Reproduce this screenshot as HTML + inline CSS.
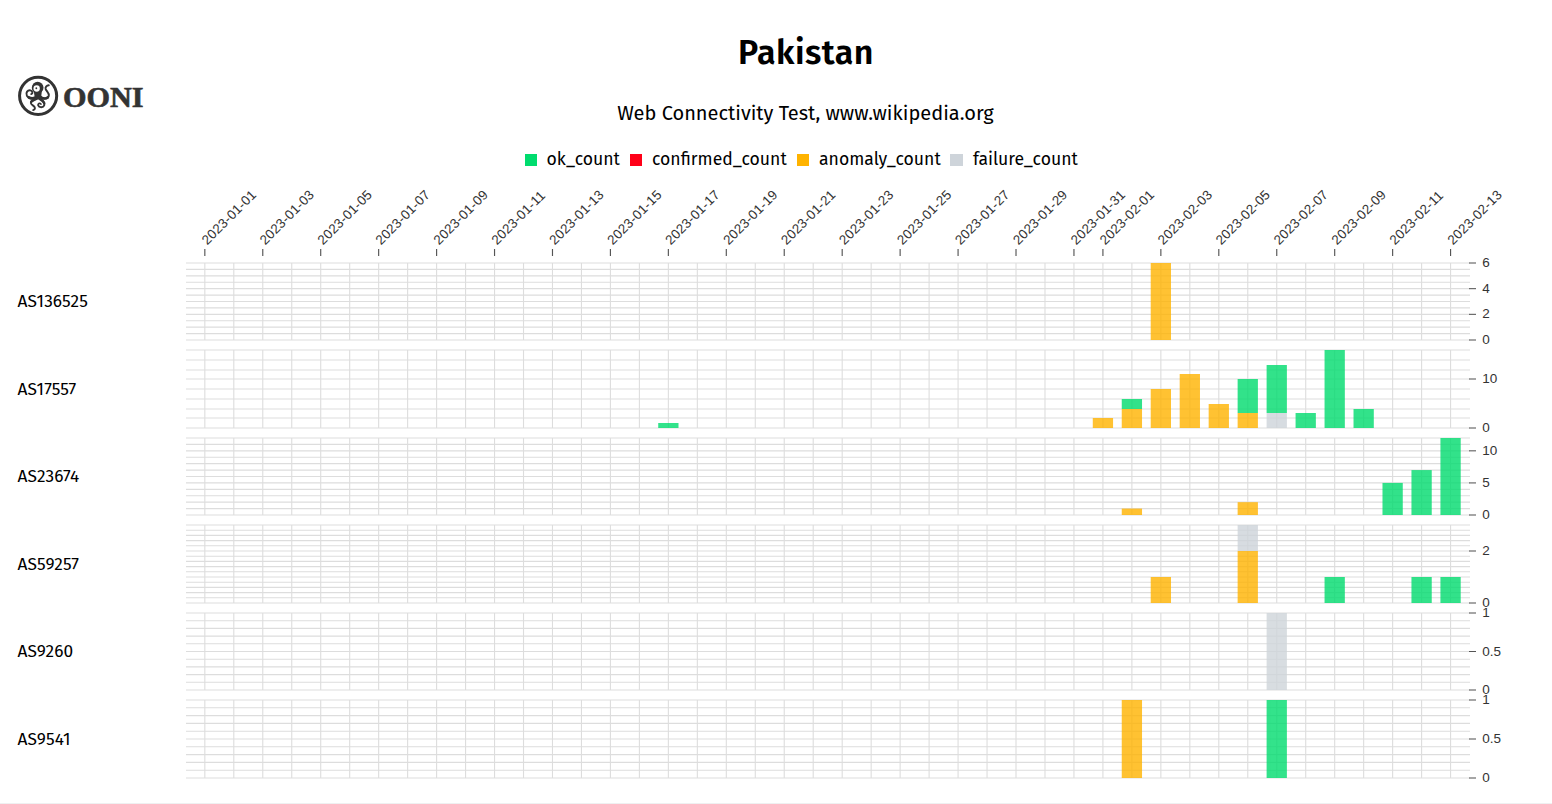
<!DOCTYPE html>
<html lang="en">
<head>
<meta charset="utf-8">
<title>Pakistan - Web Connectivity Test, www.wikipedia.org</title>
<style>
html,body{margin:0;padding:0;background:#fff;}
body{width:1552px;height:804px;position:relative;overflow:hidden;color:#000;
  font-family:"Fira Sans","Liberation Sans",sans-serif;font-size:17.6px;}
.title{position:absolute;left:0;width:1612px;top:29px;text-align:center;font-weight:600;font-size:34px;letter-spacing:0.48px;line-height:48px;margin:0;white-space:nowrap;}
.subtitle{position:absolute;left:0;width:1611px;top:98px;text-align:center;font-size:20px;line-height:30px;white-space:nowrap;}
.legend{position:absolute;top:145px;left:0;height:30px;width:1552px;}
.legend .sq{position:absolute;top:9px;width:12px;height:12px;}
.legend .lt{position:absolute;top:0;line-height:30px;white-space:nowrap;font-size:17.6px;}
.rowlabel{position:absolute;left:17.6px;height:30px;line-height:30px;font-size:17.3px;letter-spacing:0.08px;white-space:nowrap;}
.logo{position:absolute;left:18px;top:76px;height:40px;white-space:nowrap;}
.logo .word{position:absolute;left:45.4px;top:0.5px;font-family:"Liberation Serif","DejaVu Serif",serif;font-weight:700;font-size:28.8px;line-height:40px;color:#333;letter-spacing:0;-webkit-text-stroke:0.6px #333;transform:scaleX(1.05);transform-origin:0 50%;}
.footstrip{position:absolute;left:0;top:803px;width:1552px;height:1px;background:#eff0f1;}
</style>
</head>
<body>
<div class="logo"><svg class="mark" width="48" height="48" viewBox="0 0 804 804" style="position:absolute;left:-4px;top:-4px"><g fill="none" stroke="#333" stroke-linecap="round" stroke-linejoin="round"><circle cx="404" cy="399" r="311" stroke-width="50"/><path d="M392 418C330 445 250 455 216 398C190 345 230 300 276 308C316 318 318 362 288 370" stroke-width="33"/><path d="M392 420C340 442 290 447 250 428" stroke-width="46"/><path d="M425 400C470 452 560 462 582 400C596 350 540 322 530 285C522 250 550 226 582 222" stroke-width="33"/><path d="M425 402C460 442 520 457 562 428" stroke-width="46"/><path d="M392 440C340 462 280 482 282 520C285 556 345 562 350 600C352 620 336 634 320 638" stroke-width="31"/><path d="M392 442C350 460 310 477 290 498" stroke-width="42"/><path d="M420 440C470 470 522 510 506 560C490 602 420 600 405 560C398 530 430 514 450 536" stroke-width="31"/><path d="M420 442C460 467 495 492 506 522" stroke-width="42"/></g><g fill="#333"><circle cx="396" cy="262" r="98"/><path d="M328 300L345 410Q400 475 455 410L470 300Z"/></g><circle cx="380" cy="276" r="53" fill="#fff"/><circle cx="374" cy="272" r="15" fill="#333"/></svg>
<span class="word">OONI</span></div>
<h1 class="title">Pakistan</h1>
<div class="subtitle">Web Connectivity Test, www.wikipedia.org</div>
<div class="legend">
  <span class="sq" style="left:525px;background:#00dc6e"></span><span class="lt" style="left:546.6px">ok_count</span>
  <span class="sq" style="left:630px;background:#ff0018"></span><span class="lt" style="left:652px">confirmed_count</span>
  <span class="sq" style="left:797px;background:#ffb300"></span><span class="lt" style="left:819px">anomaly_count</span>
  <span class="sq" style="left:950px;width:13px;background:#ced4da"></span><span class="lt" style="left:972.9px">failure_count</span>
</div>
<div class="rowlabel" style="top:287px">AS136525</div>
<div class="rowlabel" style="top:375px">AS17557</div>
<div class="rowlabel" style="top:462px">AS23674</div>
<div class="rowlabel" style="top:550px">AS59257</div>
<div class="rowlabel" style="top:637px">AS9260</div>
<div class="rowlabel" style="top:725px">AS9541</div>
<svg id="chart" width="1552" height="804" viewBox="0 0 1552 804" style="position:absolute;left:0;top:0">
<g font-family="'Liberation Sans', sans-serif" font-size="13.5" fill="#333333">
<line x1="204.83" x2="204.83" y1="256" y2="249" stroke="#555555" stroke-width="1.15"/>
<text transform="translate(204.03,242.2) rotate(-45)" dominant-baseline="central" text-anchor="start" font-size="13.4" letter-spacing="0.2">2023-01-01</text>
<line x1="262.77" x2="262.77" y1="256" y2="249" stroke="#555555" stroke-width="1.15"/>
<text transform="translate(261.97,242.2) rotate(-45)" dominant-baseline="central" text-anchor="start" font-size="13.4" letter-spacing="0.2">2023-01-03</text>
<line x1="320.71" x2="320.71" y1="256" y2="249" stroke="#555555" stroke-width="1.15"/>
<text transform="translate(319.91,242.2) rotate(-45)" dominant-baseline="central" text-anchor="start" font-size="13.4" letter-spacing="0.2">2023-01-05</text>
<line x1="378.65" x2="378.65" y1="256" y2="249" stroke="#555555" stroke-width="1.15"/>
<text transform="translate(377.85,242.2) rotate(-45)" dominant-baseline="central" text-anchor="start" font-size="13.4" letter-spacing="0.2">2023-01-07</text>
<line x1="436.6" x2="436.6" y1="256" y2="249" stroke="#555555" stroke-width="1.15"/>
<text transform="translate(435.8,242.2) rotate(-45)" dominant-baseline="central" text-anchor="start" font-size="13.4" letter-spacing="0.2">2023-01-09</text>
<line x1="494.54" x2="494.54" y1="256" y2="249" stroke="#555555" stroke-width="1.15"/>
<text transform="translate(493.74,242.2) rotate(-45)" dominant-baseline="central" text-anchor="start" font-size="13.4" letter-spacing="0.2">2023-01-11</text>
<line x1="552.48" x2="552.48" y1="256" y2="249" stroke="#555555" stroke-width="1.15"/>
<text transform="translate(551.68,242.2) rotate(-45)" dominant-baseline="central" text-anchor="start" font-size="13.4" letter-spacing="0.2">2023-01-13</text>
<line x1="610.42" x2="610.42" y1="256" y2="249" stroke="#555555" stroke-width="1.15"/>
<text transform="translate(609.62,242.2) rotate(-45)" dominant-baseline="central" text-anchor="start" font-size="13.4" letter-spacing="0.2">2023-01-15</text>
<line x1="668.36" x2="668.36" y1="256" y2="249" stroke="#555555" stroke-width="1.15"/>
<text transform="translate(667.56,242.2) rotate(-45)" dominant-baseline="central" text-anchor="start" font-size="13.4" letter-spacing="0.2">2023-01-17</text>
<line x1="726.3" x2="726.3" y1="256" y2="249" stroke="#555555" stroke-width="1.15"/>
<text transform="translate(725.5,242.2) rotate(-45)" dominant-baseline="central" text-anchor="start" font-size="13.4" letter-spacing="0.2">2023-01-19</text>
<line x1="784.24" x2="784.24" y1="256" y2="249" stroke="#555555" stroke-width="1.15"/>
<text transform="translate(783.44,242.2) rotate(-45)" dominant-baseline="central" text-anchor="start" font-size="13.4" letter-spacing="0.2">2023-01-21</text>
<line x1="842.19" x2="842.19" y1="256" y2="249" stroke="#555555" stroke-width="1.15"/>
<text transform="translate(841.39,242.2) rotate(-45)" dominant-baseline="central" text-anchor="start" font-size="13.4" letter-spacing="0.2">2023-01-23</text>
<line x1="900.13" x2="900.13" y1="256" y2="249" stroke="#555555" stroke-width="1.15"/>
<text transform="translate(899.33,242.2) rotate(-45)" dominant-baseline="central" text-anchor="start" font-size="13.4" letter-spacing="0.2">2023-01-25</text>
<line x1="958.07" x2="958.07" y1="256" y2="249" stroke="#555555" stroke-width="1.15"/>
<text transform="translate(957.27,242.2) rotate(-45)" dominant-baseline="central" text-anchor="start" font-size="13.4" letter-spacing="0.2">2023-01-27</text>
<line x1="1016.01" x2="1016.01" y1="256" y2="249" stroke="#555555" stroke-width="1.15"/>
<text transform="translate(1015.21,242.2) rotate(-45)" dominant-baseline="central" text-anchor="start" font-size="13.4" letter-spacing="0.2">2023-01-29</text>
<line x1="1073.95" x2="1073.95" y1="256" y2="249" stroke="#555555" stroke-width="1.15"/>
<text transform="translate(1073.15,242.2) rotate(-45)" dominant-baseline="central" text-anchor="start" font-size="13.4" letter-spacing="0.2">2023-01-31</text>
<line x1="1102.92" x2="1102.92" y1="256" y2="249" stroke="#555555" stroke-width="1.15"/>
<text transform="translate(1102.12,242.2) rotate(-45)" dominant-baseline="central" text-anchor="start" font-size="13.4" letter-spacing="0.2">2023-02-01</text>
<line x1="1160.86" x2="1160.86" y1="256" y2="249" stroke="#555555" stroke-width="1.15"/>
<text transform="translate(1160.06,242.2) rotate(-45)" dominant-baseline="central" text-anchor="start" font-size="13.4" letter-spacing="0.2">2023-02-03</text>
<line x1="1218.8" x2="1218.8" y1="256" y2="249" stroke="#555555" stroke-width="1.15"/>
<text transform="translate(1218,242.2) rotate(-45)" dominant-baseline="central" text-anchor="start" font-size="13.4" letter-spacing="0.2">2023-02-05</text>
<line x1="1276.75" x2="1276.75" y1="256" y2="249" stroke="#555555" stroke-width="1.15"/>
<text transform="translate(1275.95,242.2) rotate(-45)" dominant-baseline="central" text-anchor="start" font-size="13.4" letter-spacing="0.2">2023-02-07</text>
<line x1="1334.69" x2="1334.69" y1="256" y2="249" stroke="#555555" stroke-width="1.15"/>
<text transform="translate(1333.89,242.2) rotate(-45)" dominant-baseline="central" text-anchor="start" font-size="13.4" letter-spacing="0.2">2023-02-09</text>
<line x1="1392.63" x2="1392.63" y1="256" y2="249" stroke="#555555" stroke-width="1.15"/>
<text transform="translate(1391.83,242.2) rotate(-45)" dominant-baseline="central" text-anchor="start" font-size="13.4" letter-spacing="0.2">2023-02-11</text>
<line x1="1450.57" x2="1450.57" y1="256" y2="249" stroke="#555555" stroke-width="1.15"/>
<text transform="translate(1449.77,242.2) rotate(-45)" dominant-baseline="central" text-anchor="start" font-size="13.4" letter-spacing="0.2">2023-02-13</text>
</g>
<g stroke="#dddddd" stroke-width="1.1">
<line x1="204.83" x2="204.83" y1="263" y2="340"/>
<line x1="233.8" x2="233.8" y1="263" y2="340"/>
<line x1="262.77" x2="262.77" y1="263" y2="340"/>
<line x1="291.74" x2="291.74" y1="263" y2="340"/>
<line x1="320.71" x2="320.71" y1="263" y2="340"/>
<line x1="349.68" x2="349.68" y1="263" y2="340"/>
<line x1="378.65" x2="378.65" y1="263" y2="340"/>
<line x1="407.63" x2="407.63" y1="263" y2="340"/>
<line x1="436.6" x2="436.6" y1="263" y2="340"/>
<line x1="465.57" x2="465.57" y1="263" y2="340"/>
<line x1="494.54" x2="494.54" y1="263" y2="340"/>
<line x1="523.51" x2="523.51" y1="263" y2="340"/>
<line x1="552.48" x2="552.48" y1="263" y2="340"/>
<line x1="581.45" x2="581.45" y1="263" y2="340"/>
<line x1="610.42" x2="610.42" y1="263" y2="340"/>
<line x1="639.39" x2="639.39" y1="263" y2="340"/>
<line x1="668.36" x2="668.36" y1="263" y2="340"/>
<line x1="697.33" x2="697.33" y1="263" y2="340"/>
<line x1="726.3" x2="726.3" y1="263" y2="340"/>
<line x1="755.27" x2="755.27" y1="263" y2="340"/>
<line x1="784.24" x2="784.24" y1="263" y2="340"/>
<line x1="813.21" x2="813.21" y1="263" y2="340"/>
<line x1="842.19" x2="842.19" y1="263" y2="340"/>
<line x1="871.16" x2="871.16" y1="263" y2="340"/>
<line x1="900.13" x2="900.13" y1="263" y2="340"/>
<line x1="929.1" x2="929.1" y1="263" y2="340"/>
<line x1="958.07" x2="958.07" y1="263" y2="340"/>
<line x1="987.04" x2="987.04" y1="263" y2="340"/>
<line x1="1016.01" x2="1016.01" y1="263" y2="340"/>
<line x1="1044.98" x2="1044.98" y1="263" y2="340"/>
<line x1="1073.95" x2="1073.95" y1="263" y2="340"/>
<line x1="1102.92" x2="1102.92" y1="263" y2="340"/>
<line x1="1131.89" x2="1131.89" y1="263" y2="340"/>
<line x1="1160.86" x2="1160.86" y1="263" y2="340"/>
<line x1="1189.83" x2="1189.83" y1="263" y2="340"/>
<line x1="1218.8" x2="1218.8" y1="263" y2="340"/>
<line x1="1247.77" x2="1247.77" y1="263" y2="340"/>
<line x1="1276.75" x2="1276.75" y1="263" y2="340"/>
<line x1="1305.72" x2="1305.72" y1="263" y2="340"/>
<line x1="1334.69" x2="1334.69" y1="263" y2="340"/>
<line x1="1363.66" x2="1363.66" y1="263" y2="340"/>
<line x1="1392.63" x2="1392.63" y1="263" y2="340"/>
<line x1="1421.6" x2="1421.6" y1="263" y2="340"/>
<line x1="1450.57" x2="1450.57" y1="263" y2="340"/>
<line x1="186" x2="1470" y1="340" y2="340"/>
<line x1="186" x2="1470" y1="333.58" y2="333.58"/>
<line x1="186" x2="1470" y1="327.17" y2="327.17"/>
<line x1="186" x2="1470" y1="320.75" y2="320.75"/>
<line x1="186" x2="1470" y1="314.33" y2="314.33"/>
<line x1="186" x2="1470" y1="307.92" y2="307.92"/>
<line x1="186" x2="1470" y1="301.5" y2="301.5"/>
<line x1="186" x2="1470" y1="295.08" y2="295.08"/>
<line x1="186" x2="1470" y1="288.67" y2="288.67"/>
<line x1="186" x2="1470" y1="282.25" y2="282.25"/>
<line x1="186" x2="1470" y1="275.83" y2="275.83"/>
<line x1="186" x2="1470" y1="269.42" y2="269.42"/>
<line x1="186" x2="1470" y1="263" y2="263"/>
</g>
<g font-family="'Liberation Sans', sans-serif" font-size="13.5" fill="#333333">
<line x1="1469" x2="1476" y1="340" y2="340" stroke="#555555" stroke-width="1.05"/>
<text x="1482.2" y="344" text-anchor="start">0</text>
<line x1="1469" x2="1476" y1="314.33" y2="314.33" stroke="#555555" stroke-width="1.05"/>
<text x="1482.2" y="318" text-anchor="start">2</text>
<line x1="1469" x2="1476" y1="288.67" y2="288.67" stroke="#555555" stroke-width="1.05"/>
<text x="1482.2" y="293" text-anchor="start">4</text>
<line x1="1469" x2="1476" y1="263" y2="263" stroke="#555555" stroke-width="1.05"/>
<text x="1482.2" y="267" text-anchor="start">6</text>
</g>
<g opacity="0.8">
<rect x="1150.72" y="263" width="20.28" height="77" fill="#ffb300"/>
</g>
<g stroke="#dddddd" stroke-width="1.1">
<line x1="204.83" x2="204.83" y1="350" y2="428"/>
<line x1="233.8" x2="233.8" y1="350" y2="428"/>
<line x1="262.77" x2="262.77" y1="350" y2="428"/>
<line x1="291.74" x2="291.74" y1="350" y2="428"/>
<line x1="320.71" x2="320.71" y1="350" y2="428"/>
<line x1="349.68" x2="349.68" y1="350" y2="428"/>
<line x1="378.65" x2="378.65" y1="350" y2="428"/>
<line x1="407.63" x2="407.63" y1="350" y2="428"/>
<line x1="436.6" x2="436.6" y1="350" y2="428"/>
<line x1="465.57" x2="465.57" y1="350" y2="428"/>
<line x1="494.54" x2="494.54" y1="350" y2="428"/>
<line x1="523.51" x2="523.51" y1="350" y2="428"/>
<line x1="552.48" x2="552.48" y1="350" y2="428"/>
<line x1="581.45" x2="581.45" y1="350" y2="428"/>
<line x1="610.42" x2="610.42" y1="350" y2="428"/>
<line x1="639.39" x2="639.39" y1="350" y2="428"/>
<line x1="668.36" x2="668.36" y1="350" y2="428"/>
<line x1="697.33" x2="697.33" y1="350" y2="428"/>
<line x1="726.3" x2="726.3" y1="350" y2="428"/>
<line x1="755.27" x2="755.27" y1="350" y2="428"/>
<line x1="784.24" x2="784.24" y1="350" y2="428"/>
<line x1="813.21" x2="813.21" y1="350" y2="428"/>
<line x1="842.19" x2="842.19" y1="350" y2="428"/>
<line x1="871.16" x2="871.16" y1="350" y2="428"/>
<line x1="900.13" x2="900.13" y1="350" y2="428"/>
<line x1="929.1" x2="929.1" y1="350" y2="428"/>
<line x1="958.07" x2="958.07" y1="350" y2="428"/>
<line x1="987.04" x2="987.04" y1="350" y2="428"/>
<line x1="1016.01" x2="1016.01" y1="350" y2="428"/>
<line x1="1044.98" x2="1044.98" y1="350" y2="428"/>
<line x1="1073.95" x2="1073.95" y1="350" y2="428"/>
<line x1="1102.92" x2="1102.92" y1="350" y2="428"/>
<line x1="1131.89" x2="1131.89" y1="350" y2="428"/>
<line x1="1160.86" x2="1160.86" y1="350" y2="428"/>
<line x1="1189.83" x2="1189.83" y1="350" y2="428"/>
<line x1="1218.8" x2="1218.8" y1="350" y2="428"/>
<line x1="1247.77" x2="1247.77" y1="350" y2="428"/>
<line x1="1276.75" x2="1276.75" y1="350" y2="428"/>
<line x1="1305.72" x2="1305.72" y1="350" y2="428"/>
<line x1="1334.69" x2="1334.69" y1="350" y2="428"/>
<line x1="1363.66" x2="1363.66" y1="350" y2="428"/>
<line x1="1392.63" x2="1392.63" y1="350" y2="428"/>
<line x1="1421.6" x2="1421.6" y1="350" y2="428"/>
<line x1="1450.57" x2="1450.57" y1="350" y2="428"/>
<line x1="186" x2="1470" y1="428" y2="428"/>
<line x1="186" x2="1470" y1="418" y2="418"/>
<line x1="186" x2="1470" y1="409" y2="409"/>
<line x1="186" x2="1470" y1="399" y2="399"/>
<line x1="186" x2="1470" y1="389" y2="389"/>
<line x1="186" x2="1470" y1="379" y2="379"/>
<line x1="186" x2="1470" y1="370" y2="370"/>
<line x1="186" x2="1470" y1="360" y2="360"/>
<line x1="186" x2="1470" y1="350" y2="350"/>
</g>
<g font-family="'Liberation Sans', sans-serif" font-size="13.5" fill="#333333">
<line x1="1469" x2="1476" y1="428" y2="428" stroke="#555555" stroke-width="1.05"/>
<text x="1482.2" y="432" text-anchor="start">0</text>
<line x1="1469" x2="1476" y1="379" y2="379" stroke="#555555" stroke-width="1.05"/>
<text x="1482.2" y="383" text-anchor="start">10</text>
</g>
<g opacity="0.8">
<rect x="658.22" y="423" width="20.28" height="5" fill="#00dc6e"/>
<rect x="1092.78" y="418" width="20.28" height="10" fill="#ffb300"/>
<rect x="1121.75" y="409" width="20.28" height="19" fill="#ffb300"/>
<rect x="1121.75" y="399" width="20.28" height="10" fill="#00dc6e"/>
<rect x="1150.72" y="389" width="20.28" height="39" fill="#ffb300"/>
<rect x="1179.69" y="374" width="20.28" height="54" fill="#ffb300"/>
<rect x="1208.66" y="404" width="20.28" height="24" fill="#ffb300"/>
<rect x="1237.63" y="413" width="20.28" height="15" fill="#ffb300"/>
<rect x="1237.63" y="379" width="20.28" height="34" fill="#00dc6e"/>
<rect x="1266.61" y="413" width="20.28" height="15" fill="#ced4da"/>
<rect x="1266.61" y="365" width="20.28" height="48" fill="#00dc6e"/>
<rect x="1295.58" y="413" width="20.28" height="15" fill="#00dc6e"/>
<rect x="1324.55" y="350" width="20.28" height="78" fill="#00dc6e"/>
<rect x="1353.52" y="409" width="20.28" height="19" fill="#00dc6e"/>
</g>
<g stroke="#dddddd" stroke-width="1.1">
<line x1="204.83" x2="204.83" y1="438" y2="515"/>
<line x1="233.8" x2="233.8" y1="438" y2="515"/>
<line x1="262.77" x2="262.77" y1="438" y2="515"/>
<line x1="291.74" x2="291.74" y1="438" y2="515"/>
<line x1="320.71" x2="320.71" y1="438" y2="515"/>
<line x1="349.68" x2="349.68" y1="438" y2="515"/>
<line x1="378.65" x2="378.65" y1="438" y2="515"/>
<line x1="407.63" x2="407.63" y1="438" y2="515"/>
<line x1="436.6" x2="436.6" y1="438" y2="515"/>
<line x1="465.57" x2="465.57" y1="438" y2="515"/>
<line x1="494.54" x2="494.54" y1="438" y2="515"/>
<line x1="523.51" x2="523.51" y1="438" y2="515"/>
<line x1="552.48" x2="552.48" y1="438" y2="515"/>
<line x1="581.45" x2="581.45" y1="438" y2="515"/>
<line x1="610.42" x2="610.42" y1="438" y2="515"/>
<line x1="639.39" x2="639.39" y1="438" y2="515"/>
<line x1="668.36" x2="668.36" y1="438" y2="515"/>
<line x1="697.33" x2="697.33" y1="438" y2="515"/>
<line x1="726.3" x2="726.3" y1="438" y2="515"/>
<line x1="755.27" x2="755.27" y1="438" y2="515"/>
<line x1="784.24" x2="784.24" y1="438" y2="515"/>
<line x1="813.21" x2="813.21" y1="438" y2="515"/>
<line x1="842.19" x2="842.19" y1="438" y2="515"/>
<line x1="871.16" x2="871.16" y1="438" y2="515"/>
<line x1="900.13" x2="900.13" y1="438" y2="515"/>
<line x1="929.1" x2="929.1" y1="438" y2="515"/>
<line x1="958.07" x2="958.07" y1="438" y2="515"/>
<line x1="987.04" x2="987.04" y1="438" y2="515"/>
<line x1="1016.01" x2="1016.01" y1="438" y2="515"/>
<line x1="1044.98" x2="1044.98" y1="438" y2="515"/>
<line x1="1073.95" x2="1073.95" y1="438" y2="515"/>
<line x1="1102.92" x2="1102.92" y1="438" y2="515"/>
<line x1="1131.89" x2="1131.89" y1="438" y2="515"/>
<line x1="1160.86" x2="1160.86" y1="438" y2="515"/>
<line x1="1189.83" x2="1189.83" y1="438" y2="515"/>
<line x1="1218.8" x2="1218.8" y1="438" y2="515"/>
<line x1="1247.77" x2="1247.77" y1="438" y2="515"/>
<line x1="1276.75" x2="1276.75" y1="438" y2="515"/>
<line x1="1305.72" x2="1305.72" y1="438" y2="515"/>
<line x1="1334.69" x2="1334.69" y1="438" y2="515"/>
<line x1="1363.66" x2="1363.66" y1="438" y2="515"/>
<line x1="1392.63" x2="1392.63" y1="438" y2="515"/>
<line x1="1421.6" x2="1421.6" y1="438" y2="515"/>
<line x1="1450.57" x2="1450.57" y1="438" y2="515"/>
<line x1="186" x2="1470" y1="515" y2="515"/>
<line x1="186" x2="1470" y1="508.58" y2="508.58"/>
<line x1="186" x2="1470" y1="502.17" y2="502.17"/>
<line x1="186" x2="1470" y1="495.75" y2="495.75"/>
<line x1="186" x2="1470" y1="489.33" y2="489.33"/>
<line x1="186" x2="1470" y1="482.92" y2="482.92"/>
<line x1="186" x2="1470" y1="476.5" y2="476.5"/>
<line x1="186" x2="1470" y1="470.08" y2="470.08"/>
<line x1="186" x2="1470" y1="463.67" y2="463.67"/>
<line x1="186" x2="1470" y1="457.25" y2="457.25"/>
<line x1="186" x2="1470" y1="450.83" y2="450.83"/>
<line x1="186" x2="1470" y1="444.42" y2="444.42"/>
<line x1="186" x2="1470" y1="438" y2="438"/>
</g>
<g font-family="'Liberation Sans', sans-serif" font-size="13.5" fill="#333333">
<line x1="1469" x2="1476" y1="515" y2="515" stroke="#555555" stroke-width="1.05"/>
<text x="1482.2" y="519" text-anchor="start">0</text>
<line x1="1469" x2="1476" y1="482.92" y2="482.92" stroke="#555555" stroke-width="1.05"/>
<text x="1482.2" y="487" text-anchor="start">5</text>
<line x1="1469" x2="1476" y1="450.83" y2="450.83" stroke="#555555" stroke-width="1.05"/>
<text x="1482.2" y="455" text-anchor="start">10</text>
</g>
<g opacity="0.8">
<rect x="1121.75" y="508.58" width="20.28" height="6.42" fill="#ffb300"/>
<rect x="1237.63" y="502.17" width="20.28" height="12.83" fill="#ffb300"/>
<rect x="1382.49" y="482.92" width="20.28" height="32.08" fill="#00dc6e"/>
<rect x="1411.46" y="470.08" width="20.28" height="44.92" fill="#00dc6e"/>
<rect x="1440.43" y="438" width="20.28" height="77" fill="#00dc6e"/>
</g>
<g stroke="#dddddd" stroke-width="1.1">
<line x1="204.83" x2="204.83" y1="525" y2="603"/>
<line x1="233.8" x2="233.8" y1="525" y2="603"/>
<line x1="262.77" x2="262.77" y1="525" y2="603"/>
<line x1="291.74" x2="291.74" y1="525" y2="603"/>
<line x1="320.71" x2="320.71" y1="525" y2="603"/>
<line x1="349.68" x2="349.68" y1="525" y2="603"/>
<line x1="378.65" x2="378.65" y1="525" y2="603"/>
<line x1="407.63" x2="407.63" y1="525" y2="603"/>
<line x1="436.6" x2="436.6" y1="525" y2="603"/>
<line x1="465.57" x2="465.57" y1="525" y2="603"/>
<line x1="494.54" x2="494.54" y1="525" y2="603"/>
<line x1="523.51" x2="523.51" y1="525" y2="603"/>
<line x1="552.48" x2="552.48" y1="525" y2="603"/>
<line x1="581.45" x2="581.45" y1="525" y2="603"/>
<line x1="610.42" x2="610.42" y1="525" y2="603"/>
<line x1="639.39" x2="639.39" y1="525" y2="603"/>
<line x1="668.36" x2="668.36" y1="525" y2="603"/>
<line x1="697.33" x2="697.33" y1="525" y2="603"/>
<line x1="726.3" x2="726.3" y1="525" y2="603"/>
<line x1="755.27" x2="755.27" y1="525" y2="603"/>
<line x1="784.24" x2="784.24" y1="525" y2="603"/>
<line x1="813.21" x2="813.21" y1="525" y2="603"/>
<line x1="842.19" x2="842.19" y1="525" y2="603"/>
<line x1="871.16" x2="871.16" y1="525" y2="603"/>
<line x1="900.13" x2="900.13" y1="525" y2="603"/>
<line x1="929.1" x2="929.1" y1="525" y2="603"/>
<line x1="958.07" x2="958.07" y1="525" y2="603"/>
<line x1="987.04" x2="987.04" y1="525" y2="603"/>
<line x1="1016.01" x2="1016.01" y1="525" y2="603"/>
<line x1="1044.98" x2="1044.98" y1="525" y2="603"/>
<line x1="1073.95" x2="1073.95" y1="525" y2="603"/>
<line x1="1102.92" x2="1102.92" y1="525" y2="603"/>
<line x1="1131.89" x2="1131.89" y1="525" y2="603"/>
<line x1="1160.86" x2="1160.86" y1="525" y2="603"/>
<line x1="1189.83" x2="1189.83" y1="525" y2="603"/>
<line x1="1218.8" x2="1218.8" y1="525" y2="603"/>
<line x1="1247.77" x2="1247.77" y1="525" y2="603"/>
<line x1="1276.75" x2="1276.75" y1="525" y2="603"/>
<line x1="1305.72" x2="1305.72" y1="525" y2="603"/>
<line x1="1334.69" x2="1334.69" y1="525" y2="603"/>
<line x1="1363.66" x2="1363.66" y1="525" y2="603"/>
<line x1="1392.63" x2="1392.63" y1="525" y2="603"/>
<line x1="1421.6" x2="1421.6" y1="525" y2="603"/>
<line x1="1450.57" x2="1450.57" y1="525" y2="603"/>
<line x1="186" x2="1470" y1="603" y2="603"/>
<line x1="186" x2="1470" y1="597.8" y2="597.8"/>
<line x1="186" x2="1470" y1="592.6" y2="592.6"/>
<line x1="186" x2="1470" y1="587.4" y2="587.4"/>
<line x1="186" x2="1470" y1="582.2" y2="582.2"/>
<line x1="186" x2="1470" y1="577" y2="577"/>
<line x1="186" x2="1470" y1="571.8" y2="571.8"/>
<line x1="186" x2="1470" y1="566.6" y2="566.6"/>
<line x1="186" x2="1470" y1="561.4" y2="561.4"/>
<line x1="186" x2="1470" y1="556.2" y2="556.2"/>
<line x1="186" x2="1470" y1="551" y2="551"/>
<line x1="186" x2="1470" y1="545.8" y2="545.8"/>
<line x1="186" x2="1470" y1="540.6" y2="540.6"/>
<line x1="186" x2="1470" y1="535.4" y2="535.4"/>
<line x1="186" x2="1470" y1="530.2" y2="530.2"/>
<line x1="186" x2="1470" y1="525" y2="525"/>
</g>
<g font-family="'Liberation Sans', sans-serif" font-size="13.5" fill="#333333">
<line x1="1469" x2="1476" y1="603" y2="603" stroke="#555555" stroke-width="1.05"/>
<text x="1482.2" y="607" text-anchor="start">0</text>
<line x1="1469" x2="1476" y1="551" y2="551" stroke="#555555" stroke-width="1.05"/>
<text x="1482.2" y="555" text-anchor="start">2</text>
</g>
<g opacity="0.8">
<rect x="1150.72" y="577" width="20.28" height="26" fill="#ffb300"/>
<rect x="1237.63" y="551" width="20.28" height="52" fill="#ffb300"/>
<rect x="1237.63" y="525" width="20.28" height="26" fill="#ced4da"/>
<rect x="1324.55" y="577" width="20.28" height="26" fill="#00dc6e"/>
<rect x="1411.46" y="577" width="20.28" height="26" fill="#00dc6e"/>
<rect x="1440.43" y="577" width="20.28" height="26" fill="#00dc6e"/>
</g>
<g stroke="#dddddd" stroke-width="1.1">
<line x1="204.83" x2="204.83" y1="613" y2="690"/>
<line x1="233.8" x2="233.8" y1="613" y2="690"/>
<line x1="262.77" x2="262.77" y1="613" y2="690"/>
<line x1="291.74" x2="291.74" y1="613" y2="690"/>
<line x1="320.71" x2="320.71" y1="613" y2="690"/>
<line x1="349.68" x2="349.68" y1="613" y2="690"/>
<line x1="378.65" x2="378.65" y1="613" y2="690"/>
<line x1="407.63" x2="407.63" y1="613" y2="690"/>
<line x1="436.6" x2="436.6" y1="613" y2="690"/>
<line x1="465.57" x2="465.57" y1="613" y2="690"/>
<line x1="494.54" x2="494.54" y1="613" y2="690"/>
<line x1="523.51" x2="523.51" y1="613" y2="690"/>
<line x1="552.48" x2="552.48" y1="613" y2="690"/>
<line x1="581.45" x2="581.45" y1="613" y2="690"/>
<line x1="610.42" x2="610.42" y1="613" y2="690"/>
<line x1="639.39" x2="639.39" y1="613" y2="690"/>
<line x1="668.36" x2="668.36" y1="613" y2="690"/>
<line x1="697.33" x2="697.33" y1="613" y2="690"/>
<line x1="726.3" x2="726.3" y1="613" y2="690"/>
<line x1="755.27" x2="755.27" y1="613" y2="690"/>
<line x1="784.24" x2="784.24" y1="613" y2="690"/>
<line x1="813.21" x2="813.21" y1="613" y2="690"/>
<line x1="842.19" x2="842.19" y1="613" y2="690"/>
<line x1="871.16" x2="871.16" y1="613" y2="690"/>
<line x1="900.13" x2="900.13" y1="613" y2="690"/>
<line x1="929.1" x2="929.1" y1="613" y2="690"/>
<line x1="958.07" x2="958.07" y1="613" y2="690"/>
<line x1="987.04" x2="987.04" y1="613" y2="690"/>
<line x1="1016.01" x2="1016.01" y1="613" y2="690"/>
<line x1="1044.98" x2="1044.98" y1="613" y2="690"/>
<line x1="1073.95" x2="1073.95" y1="613" y2="690"/>
<line x1="1102.92" x2="1102.92" y1="613" y2="690"/>
<line x1="1131.89" x2="1131.89" y1="613" y2="690"/>
<line x1="1160.86" x2="1160.86" y1="613" y2="690"/>
<line x1="1189.83" x2="1189.83" y1="613" y2="690"/>
<line x1="1218.8" x2="1218.8" y1="613" y2="690"/>
<line x1="1247.77" x2="1247.77" y1="613" y2="690"/>
<line x1="1276.75" x2="1276.75" y1="613" y2="690"/>
<line x1="1305.72" x2="1305.72" y1="613" y2="690"/>
<line x1="1334.69" x2="1334.69" y1="613" y2="690"/>
<line x1="1363.66" x2="1363.66" y1="613" y2="690"/>
<line x1="1392.63" x2="1392.63" y1="613" y2="690"/>
<line x1="1421.6" x2="1421.6" y1="613" y2="690"/>
<line x1="1450.57" x2="1450.57" y1="613" y2="690"/>
<line x1="186" x2="1470" y1="690" y2="690"/>
<line x1="186" x2="1470" y1="682.3" y2="682.3"/>
<line x1="186" x2="1470" y1="674.6" y2="674.6"/>
<line x1="186" x2="1470" y1="666.9" y2="666.9"/>
<line x1="186" x2="1470" y1="659.2" y2="659.2"/>
<line x1="186" x2="1470" y1="651.5" y2="651.5"/>
<line x1="186" x2="1470" y1="643.8" y2="643.8"/>
<line x1="186" x2="1470" y1="636.1" y2="636.1"/>
<line x1="186" x2="1470" y1="628.4" y2="628.4"/>
<line x1="186" x2="1470" y1="620.7" y2="620.7"/>
<line x1="186" x2="1470" y1="613" y2="613"/>
</g>
<g font-family="'Liberation Sans', sans-serif" font-size="13.5" fill="#333333">
<line x1="1469" x2="1476" y1="690" y2="690" stroke="#555555" stroke-width="1.05"/>
<text x="1482.2" y="694" text-anchor="start">0</text>
<line x1="1469" x2="1476" y1="651.5" y2="651.5" stroke="#555555" stroke-width="1.05"/>
<text x="1482.2" y="656" text-anchor="start">0.5</text>
<line x1="1469" x2="1476" y1="613" y2="613" stroke="#555555" stroke-width="1.05"/>
<text x="1482.2" y="617" text-anchor="start">1</text>
</g>
<g opacity="0.8">
<rect x="1266.61" y="613" width="20.28" height="77" fill="#ced4da"/>
</g>
<g stroke="#dddddd" stroke-width="1.1">
<line x1="204.83" x2="204.83" y1="700" y2="778"/>
<line x1="233.8" x2="233.8" y1="700" y2="778"/>
<line x1="262.77" x2="262.77" y1="700" y2="778"/>
<line x1="291.74" x2="291.74" y1="700" y2="778"/>
<line x1="320.71" x2="320.71" y1="700" y2="778"/>
<line x1="349.68" x2="349.68" y1="700" y2="778"/>
<line x1="378.65" x2="378.65" y1="700" y2="778"/>
<line x1="407.63" x2="407.63" y1="700" y2="778"/>
<line x1="436.6" x2="436.6" y1="700" y2="778"/>
<line x1="465.57" x2="465.57" y1="700" y2="778"/>
<line x1="494.54" x2="494.54" y1="700" y2="778"/>
<line x1="523.51" x2="523.51" y1="700" y2="778"/>
<line x1="552.48" x2="552.48" y1="700" y2="778"/>
<line x1="581.45" x2="581.45" y1="700" y2="778"/>
<line x1="610.42" x2="610.42" y1="700" y2="778"/>
<line x1="639.39" x2="639.39" y1="700" y2="778"/>
<line x1="668.36" x2="668.36" y1="700" y2="778"/>
<line x1="697.33" x2="697.33" y1="700" y2="778"/>
<line x1="726.3" x2="726.3" y1="700" y2="778"/>
<line x1="755.27" x2="755.27" y1="700" y2="778"/>
<line x1="784.24" x2="784.24" y1="700" y2="778"/>
<line x1="813.21" x2="813.21" y1="700" y2="778"/>
<line x1="842.19" x2="842.19" y1="700" y2="778"/>
<line x1="871.16" x2="871.16" y1="700" y2="778"/>
<line x1="900.13" x2="900.13" y1="700" y2="778"/>
<line x1="929.1" x2="929.1" y1="700" y2="778"/>
<line x1="958.07" x2="958.07" y1="700" y2="778"/>
<line x1="987.04" x2="987.04" y1="700" y2="778"/>
<line x1="1016.01" x2="1016.01" y1="700" y2="778"/>
<line x1="1044.98" x2="1044.98" y1="700" y2="778"/>
<line x1="1073.95" x2="1073.95" y1="700" y2="778"/>
<line x1="1102.92" x2="1102.92" y1="700" y2="778"/>
<line x1="1131.89" x2="1131.89" y1="700" y2="778"/>
<line x1="1160.86" x2="1160.86" y1="700" y2="778"/>
<line x1="1189.83" x2="1189.83" y1="700" y2="778"/>
<line x1="1218.8" x2="1218.8" y1="700" y2="778"/>
<line x1="1247.77" x2="1247.77" y1="700" y2="778"/>
<line x1="1276.75" x2="1276.75" y1="700" y2="778"/>
<line x1="1305.72" x2="1305.72" y1="700" y2="778"/>
<line x1="1334.69" x2="1334.69" y1="700" y2="778"/>
<line x1="1363.66" x2="1363.66" y1="700" y2="778"/>
<line x1="1392.63" x2="1392.63" y1="700" y2="778"/>
<line x1="1421.6" x2="1421.6" y1="700" y2="778"/>
<line x1="1450.57" x2="1450.57" y1="700" y2="778"/>
<line x1="186" x2="1470" y1="778" y2="778"/>
<line x1="186" x2="1470" y1="770.2" y2="770.2"/>
<line x1="186" x2="1470" y1="762.4" y2="762.4"/>
<line x1="186" x2="1470" y1="754.6" y2="754.6"/>
<line x1="186" x2="1470" y1="746.8" y2="746.8"/>
<line x1="186" x2="1470" y1="739" y2="739"/>
<line x1="186" x2="1470" y1="731.2" y2="731.2"/>
<line x1="186" x2="1470" y1="723.4" y2="723.4"/>
<line x1="186" x2="1470" y1="715.6" y2="715.6"/>
<line x1="186" x2="1470" y1="707.8" y2="707.8"/>
<line x1="186" x2="1470" y1="700" y2="700"/>
</g>
<g font-family="'Liberation Sans', sans-serif" font-size="13.5" fill="#333333">
<line x1="1469" x2="1476" y1="778" y2="778" stroke="#555555" stroke-width="1.05"/>
<text x="1482.2" y="782" text-anchor="start">0</text>
<line x1="1469" x2="1476" y1="739" y2="739" stroke="#555555" stroke-width="1.05"/>
<text x="1482.2" y="743" text-anchor="start">0.5</text>
<line x1="1469" x2="1476" y1="700" y2="700" stroke="#555555" stroke-width="1.05"/>
<text x="1482.2" y="704" text-anchor="start">1</text>
</g>
<g opacity="0.8">
<rect x="1121.75" y="700" width="20.28" height="78" fill="#ffb300"/>
<rect x="1266.61" y="700" width="20.28" height="78" fill="#00dc6e"/>
</g>
</svg>
<div class="footstrip"></div>
</body>
</html>
